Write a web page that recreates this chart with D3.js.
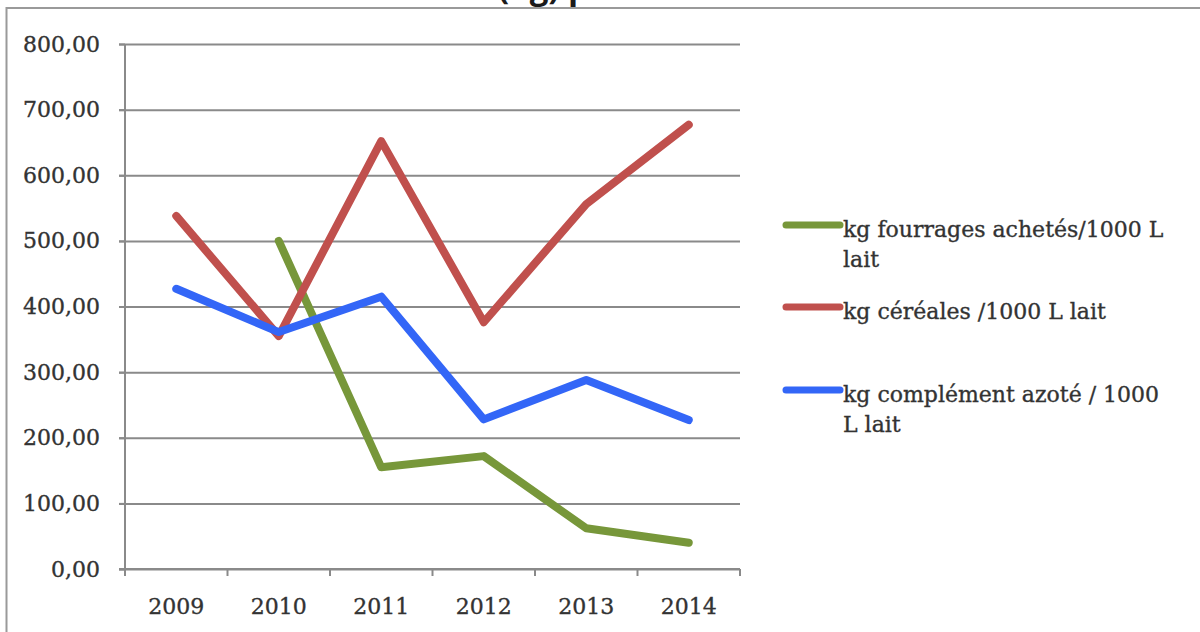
<!DOCTYPE html>
<html>
<head>
<meta charset="utf-8">
<script src="https://cdn.jsdelivr.net/npm/d3@7"></script>
<style>
  html, body { margin: 0; padding: 0; background: #fff; }
  svg { display: block; }
  .lbl { stroke: #333333; stroke-width: 0.35px; }
</style>
</head>
<body>
<svg id="chart" width="1200" height="632"></svg>
<script>
// Years on the horizontal axis
const years = ["2009", "2010", "2011", "2012", "2013", "2014"];

// kg per 1000 L of milk, one array per series (null = no value)
const fourrages = [null, 500, 155, 172, 62, 40];
const cereales = [538, 355, 652, 376, 556, 677];
const azote = [427, 361, 415, 228, 288, 227];

// Vertical axis ticks
const yTicks = [0, 100, 200, 300, 400, 500, 600, 700, 800];

// Legend labels (wrapped as displayed)
const legendLabels = [
  ["kg fourrages achetés/1000 L", "lait"],
  ["kg céréales /1000 L lait"],
  ["kg complément azoté / 1000", "L lait"]
];

const series = [
  { values: fourrages, color: "#77973a" },
  { values: cereales, color: "#c0504d" },
  { values: azote, color: "#3366f7" }
];

const svg = d3.select("#chart");
const textColor = "#333333";
const axisColor = "#8a8a8a";
const serif = "'DejaVu Serif', 'Liberation Serif', serif";

// Frame around the figure
svg.append("path")
  .attr("d", "M6.5,640 L6.5,8 L1210,8")
  .attr("fill", "none")
  .attr("stroke", "#9a9a9a")
  .attr("stroke-width", 2);

// Title (runs off the top edge)
svg.append("text")
  .attr("x", 498)
  .attr("y", -1)
  .attr("font-family", "'Open Sans', 'DejaVu Sans', sans-serif")
  .attr("font-weight", "bold")
  .attr("font-size", 33)
  .attr("fill", "#1a1a1a")
  .attr("text-anchor", "start")
  .text("(kg) par 1000 L de lait");

const x = d3.scaleBand().domain(years).range([125, 740]).padding(0);
const y = d3.scaleLinear().domain([0, 800]).range([569, 44]);
const cx = d => x(d) + x.bandwidth() / 2;

// Horizontal gridlines
const grid = svg.append("g")
  .attr("transform", "translate(119,0)")
  .call(d3.axisRight(y).tickValues(yTicks).tickSize(621).tickFormat(""));
grid.select(".domain").remove();
grid.selectAll(".tick line").attr("stroke", axisColor).attr("stroke-width", 2);

// Y axis with labels
const yAxis = svg.append("g")
  .attr("transform", "translate(125,0)")
  .call(d3.axisLeft(y).tickValues(yTicks).tickSize(6).tickPadding(19)
    .tickFormat(d => d3.format(".2f")(d).replace(".", ",")));
yAxis.select(".domain").attr("stroke", axisColor).attr("stroke-width", 2)
  .attr("d", `M0,${y(800)}V${y(0)}`);
yAxis.selectAll(".tick line").attr("stroke", axisColor).attr("stroke-width", 2);
yAxis.selectAll("text")
  .attr("class", "lbl")
  .attr("font-family", serif)
  .attr("font-size", 22)
  .attr("fill", textColor);

// X axis with labels
const xAxis = svg.append("g")
  .attr("transform", `translate(0,${y(0)})`)
  .call(d3.axisBottom(x).tickSize(0).tickPadding(29));
xAxis.select(".domain").attr("stroke", axisColor).attr("stroke-width", 2)
  .attr("d", `M119,0H${x.range()[1]}`);
xAxis.selectAll("text")
  .attr("class", "lbl")
  .attr("font-family", serif)
  .attr("font-size", 22)
  .attr("fill", textColor);

// Tick marks between categories
const bounds = years.map(d => x(d)).concat([x.range()[1]]);
xAxis.selectAll(".bound")
  .data(bounds)
  .join("line")
  .attr("class", "bound")
  .attr("x1", d => d).attr("x2", d => d)
  .attr("y1", 0).attr("y2", 7)
  .attr("stroke", axisColor).attr("stroke-width", 2);

// Series lines
const line = d3.line()
  .defined(d => d.v !== null)
  .x(d => cx(d.year))
  .y(d => y(d.v));

series.forEach(s => {
  svg.append("path")
    .datum(years.map((yr, i) => ({ year: yr, v: s.values[i] })))
    .attr("fill", "none")
    .attr("stroke", s.color)
    .attr("stroke-width", 8)
    .attr("stroke-linejoin", "round")
    .attr("stroke-linecap", "round")
    .attr("d", line);
});

// Legend
const legendY = [225, 307, 390];
const legend = svg.append("g");
series.forEach((s, i) => {
  const g = legend.append("g").attr("transform", `translate(0,${legendY[i]})`);
  g.append("line")
    .attr("x1", 786).attr("x2", 840)
    .attr("y1", 0).attr("y2", 0)
    .attr("stroke", s.color)
    .attr("stroke-width", 7)
    .attr("stroke-linecap", "round");
  const t = g.append("text")
    .attr("class", "lbl")
    .attr("font-family", serif)
    .attr("font-size", 22)
    .attr("fill", textColor);
  legendLabels[i].forEach((ln, j) => {
    t.append("tspan")
      .attr("x", 843)
      .attr("y", 12 + j * 30)
      .text(ln);
  });
});
</script>
</body>
</html>
